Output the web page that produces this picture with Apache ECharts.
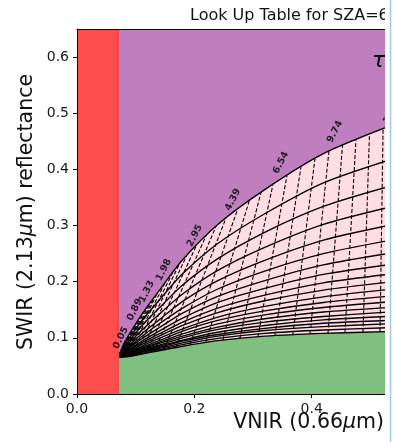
<!DOCTYPE html>
<html>
<head>
<meta charset="utf-8">
<script src="https://cdn.jsdelivr.net/npm/echarts@6/dist/echarts.min.js"></script>
<style>
html, body { margin: 0; padding: 0; background: #ffffff; }
#chart { width: 393px; height: 442px; }
</style>
</head>
<body>
<div id="chart"></div>
<script>
// VNIR reflectance at which every effective-radius curve is sampled
const vnirSamples = [0.071, 0.08, 0.09, 0.11, 0.14, 0.18, 0.24, 0.32, 0.42, 0.53];

// SWIR reflectance along each constant effective-radius curve (smallest radius first)
const swirCurves = [
  [0.067, 0.090, 0.108, 0.141, 0.184, 0.239, 0.302, 0.364, 0.428, 0.476],
  [0.067, 0.086, 0.101, 0.130, 0.167, 0.214, 0.268, 0.321, 0.376, 0.416],
  [0.067, 0.083, 0.096, 0.121, 0.153, 0.194, 0.241, 0.288, 0.334, 0.369],
  [0.067, 0.081, 0.092, 0.113, 0.142, 0.178, 0.220, 0.261, 0.302, 0.332],
  [0.067, 0.078, 0.088, 0.107, 0.132, 0.165, 0.202, 0.238, 0.274, 0.300],
  [0.067, 0.077, 0.085, 0.102, 0.125, 0.153, 0.187, 0.219, 0.250, 0.273],
  [0.067, 0.075, 0.083, 0.098, 0.118, 0.144, 0.174, 0.202, 0.230, 0.250],
  [0.067, 0.074, 0.080, 0.094, 0.112, 0.135, 0.163, 0.188, 0.213, 0.230],
  [0.067, 0.073, 0.079, 0.091, 0.107, 0.128, 0.153, 0.176, 0.198, 0.213],
  [0.067, 0.072, 0.077, 0.088, 0.103, 0.122, 0.145, 0.166, 0.185, 0.199],
  [0.066, 0.071, 0.075, 0.085, 0.099, 0.116, 0.137, 0.156, 0.173, 0.186],
  [0.066, 0.070, 0.074, 0.083, 0.095, 0.112, 0.131, 0.148, 0.163, 0.174],
  [0.066, 0.070, 0.073, 0.081, 0.092, 0.107, 0.125, 0.141, 0.154, 0.164],
  [0.066, 0.069, 0.072, 0.079, 0.090, 0.103, 0.119, 0.134, 0.146, 0.154],
  [0.066, 0.068, 0.071, 0.078, 0.087, 0.100, 0.115, 0.128, 0.138, 0.146],
  [0.066, 0.068, 0.070, 0.076, 0.085, 0.096, 0.110, 0.122, 0.132, 0.138],
  [0.066, 0.067, 0.069, 0.075, 0.083, 0.094, 0.106, 0.117, 0.126, 0.131],
  [0.066, 0.067, 0.069, 0.074, 0.081, 0.091, 0.103, 0.113, 0.120, 0.125],
  [0.066, 0.066, 0.068, 0.072, 0.079, 0.088, 0.099, 0.108, 0.114, 0.118],
  [0.066, 0.066, 0.067, 0.071, 0.077, 0.085, 0.095, 0.103, 0.108, 0.111]
];

// constant optical-thickness lines: end on the smallest-radius curve ...
const tauTop = [
  [0.0729, 0.071], [0.0740, 0.075], [0.0750, 0.077], [0.0760, 0.080], [0.0770, 0.082],
  [0.0780, 0.085], [0.0790, 0.087], [0.0800, 0.090], [0.0810, 0.092], [0.0820, 0.093],
  [0.0835, 0.096], [0.0850, 0.099], [0.0862, 0.101], [0.0875, 0.104], [0.0887, 0.106],
  [0.0899, 0.108], [0.0946, 0.116], [0.0993, 0.123], [0.1040, 0.131],
  [0.1087, 0.139], [0.1160, 0.150], [0.1232, 0.160], [0.1305, 0.170],
  [0.1377, 0.181], [0.1501, 0.198], [0.1625, 0.215], [0.1748, 0.232],
  [0.1872, 0.247], [0.2038, 0.265], [0.2205, 0.283], [0.2371, 0.299],
  [0.2538, 0.313], [0.2738, 0.329], [0.2939, 0.345], [0.3139, 0.360],
  [0.3340, 0.373], [0.3579, 0.389], [0.3817, 0.404], [0.4056, 0.419],
  [0.4295, 0.433], [0.4526, 0.444], [0.4756, 0.455], [0.4986, 0.465],
  [0.5217, 0.474], [0.5439, 0.482]
];
// ... and on the largest-radius curve
const tauBottom = [
  [0.0712, 0.066], [0.0714, 0.066], [0.0716, 0.066], [0.0718, 0.066], [0.0720, 0.066],
  [0.0722, 0.066], [0.0724, 0.066], [0.0726, 0.066], [0.0728, 0.066], [0.0729, 0.066],
  [0.0730, 0.066], [0.0731, 0.066], [0.0732, 0.066], [0.0733, 0.066], [0.0734, 0.066],
  [0.0735, 0.066], [0.0740, 0.066], [0.0746, 0.066], [0.0754, 0.066],
  [0.0763, 0.066], [0.0771, 0.066], [0.0788, 0.066], [0.0805, 0.066],
  [0.0831, 0.066], [0.0865, 0.067], [0.0916, 0.067], [0.0985, 0.069],
  [0.1070, 0.070], [0.1172, 0.072], [0.1309, 0.075], [0.1480, 0.079],
  [0.1684, 0.083], [0.1923, 0.087], [0.2196, 0.092], [0.2486, 0.096],
  [0.2776, 0.099], [0.3084, 0.102], [0.3374, 0.104], [0.3680, 0.106],
  [0.3971, 0.107], [0.4278, 0.108], [0.4568, 0.109], [0.4875, 0.110],
  [0.5165, 0.111], [0.5456, 0.111]
];

// optical-thickness labels and where they sit
const tauLabels = ['0.05', '0.89', '1.33', '1.98', '2.95', '4.39', '6.54', '9.74', '14.5'];
const tauLabelPos = [
  [0.0747, 0.100], [0.0985, 0.150], [0.1189, 0.182], [0.1479, 0.221], [0.2008, 0.282],
  [0.2657, 0.346], [0.3476, 0.412], [0.4397, 0.467], [0.5353, 0.501]
];

const redBand = [0, 0.071];
const xRange = [0, 0.525];
const yRange = [0, 0.65];
const xTicks = [0, 0.2, 0.4];
const yTicks = [0, 0.1, 0.2, 0.3, 0.4, 0.5, 0.6];

const FONT = '"DejaVu Sans", sans-serif';
const COL = {
  red: '#ff4d4d', redEdge: '#e0304a', purple: '#bf7fbf',
  green: '#7fbf7f', pink: '#ffdde3', ink: '#000000'
};

const curveData = swirCurves.map(row => row.map((y, i) => [vnirSamples[i], y]));
const topCurve = curveData[0];
const bottomCurve = curveData[curveData.length - 1];
const SMOOTH = 0.25;

const series = [];

// dashed optical-thickness lines
series.push({
  type: 'lines', coordinateSystem: 'cartesian2d', z: 2, silent: true,
  lineStyle: { color: COL.ink, width: 1.1, type: [4, 2], opacity: 1 },
  data: tauTop.map((p, i) => ({ coords: [tauBottom[i], p] }))
});

// purple region above the table
series.push({
  type: 'line', data: topCurve, smooth: SMOOTH, symbol: 'none', z: 3, silent: true,
  lineStyle: { width: 0 }, areaStyle: { color: COL.purple, opacity: 1, origin: 'end' }
});
// green region below the table
series.push({
  type: 'line', data: bottomCurve, smooth: SMOOTH, symbol: 'none', z: 3, silent: true,
  lineStyle: { width: 0 }, areaStyle: { color: COL.green, opacity: 1, origin: 'start' }
});

// solid effective-radius curves
curveData.forEach(d => {
  series.push({
    type: 'line', data: d, smooth: SMOOTH, symbol: 'none', z: 4, silent: true,
    lineStyle: { color: COL.ink, width: 1.35 }
  });
});

// red band at low VNIR reflectance
series.push({
  type: 'line', data: [[redBand[0], yRange[1]], [redBand[1], yRange[1]]], symbol: 'none', z: 5, silent: true,
  lineStyle: { width: 0 }, areaStyle: { color: COL.red, opacity: 1, origin: 'start' },
  markLine: {
    silent: true, symbol: 'none', label: { show: false },
    lineStyle: { color: COL.redEdge, width: 1, type: 'solid' },
    data: [{ xAxis: redBand[1] }]
  }
});

// optical-thickness labels
series.push({
  type: 'scatter', symbolSize: 0, z: 6, silent: true, clip: false,
  data: tauLabelPos.map((p, i) => [p[0], p[1], tauLabels[i]]),
  label: {
    show: true, position: 'inside', rotate: 63,
    formatter: p => p.data[2],
    fontFamily: FONT, fontSize: 9.5, fontWeight: 'bold', color: COL.ink
  }
});

const axisText = { fontFamily: FONT, fontSize: 14, color: '#1a1a1a', margin: 8 };

const option = {
  animation: false,
  backgroundColor: '#ffffff',
  grid: { left: 77, right: 8, top: 29, bottom: 48, show: true, backgroundColor: COL.pink, borderWidth: 0 },
  xAxis: [
    {
      type: 'value', min: xRange[0], max: xRange[1], z: 10,
      axisLine: { show: true, onZero: false, lineStyle: { color: COL.ink, width: 1 } },
      axisTick: { show: true, length: 4, customValues: xTicks, lineStyle: { color: COL.ink } },
      axisLabel: Object.assign({ customValues: xTicks, formatter: v => v.toFixed(1) }, axisText),
      splitLine: { show: false }
    },
    {
      type: 'value', position: 'top', min: xRange[0], max: xRange[1], z: 10,
      axisLine: { show: true, onZero: false, lineStyle: { color: COL.ink, width: 1 } },
      axisTick: { show: false }, axisLabel: { show: false }, splitLine: { show: false }
    }
  ],
  yAxis: {
    type: 'value', min: yRange[0], max: yRange[1], z: 10,
    axisLine: { show: true, onZero: false, lineStyle: { color: COL.ink, width: 1 } },
    axisTick: { show: true, length: 4, customValues: yTicks, lineStyle: { color: COL.ink } },
    axisLabel: Object.assign({ customValues: yTicks, formatter: v => v.toFixed(1) }, axisText),
    splitLine: { show: false }
  },
  series: series,
  graphic: [
    {
      type: 'text', left: 190, top: 8, z: 20,
      style: { text: 'Look Up Table for SZA=60°', font: '16px ' + FONT, fill: '#111' }
    },
    {
      type: 'text', x: 27, y: 212, rotation: Math.PI / 2, z: 20,
      style: {
        text: 'SWIR (2.13{it|μ}m) reflectance', font: '20.5px ' + FONT, fill: '#111',
        align: 'center', verticalAlign: 'middle',
        rich: { it: { fontStyle: 'italic', fontSize: 20.5, fontFamily: 'DejaVu Sans' } }
      }
    },
    {
      type: 'text', x: 384, y: 423, z: 20,
      style: {
        text: 'VNIR (0.66{it|μ}m)', font: '20.5px ' + FONT, fill: '#111',
        align: 'right', verticalAlign: 'middle',
        rich: { it: { fontStyle: 'italic', fontSize: 20.5, fontFamily: 'DejaVu Sans' } }
      }
    },
    {
      type: 'text', x: 372, y: 61, z: 20,
      style: { text: 'τ', font: 'italic 22px ' + FONT, fill: '#000', align: 'left', verticalAlign: 'middle' }
    },
    { type: 'rect', shape: { x: 385, y: 0, width: 8, height: 442 }, style: { fill: '#ffffff' }, z: 30 },
    { type: 'line', shape: { x1: 390.5, y1: 0, x2: 390.5, y2: 442 }, style: { stroke: '#9ccaf0', lineWidth: 1.5 }, z: 31 }
  ]
};

const chart = echarts.init(document.getElementById('chart'), null, { renderer: 'canvas' });
chart.setOption(option);
</script>
</body>
</html>
